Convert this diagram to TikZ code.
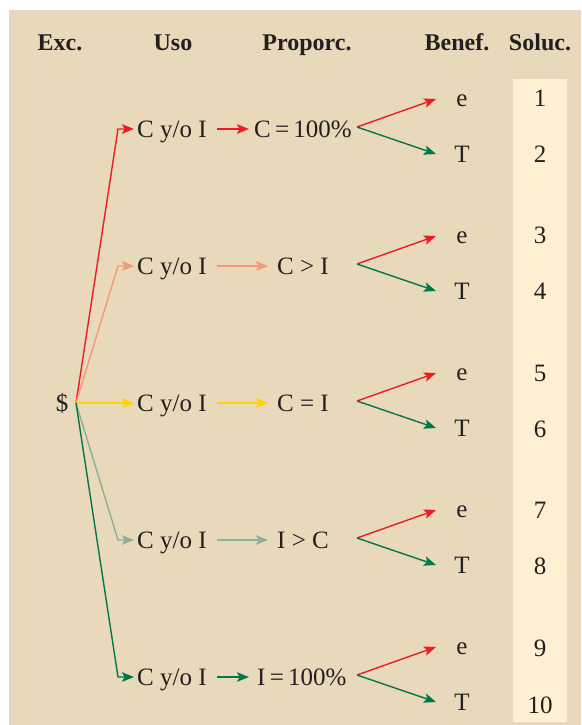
\documentclass[tikz,border=0pt]{standalone}
\usepackage{fontspec}
\setmainfont{Liberation Serif}
\usetikzlibrary{arrows.meta}
\definecolor{bgtan}{HTML}{E9D9BB}
\definecolor{colcream}{HTML}{FFF0D4}
\definecolor{txt}{HTML}{231F20}
\definecolor{cred}{HTML}{EC1C24}
\definecolor{csalmon}{HTML}{F5977A}
\definecolor{cyellow}{HTML}{FFD200}
\definecolor{csage}{HTML}{8FAE96}
\definecolor{cgreen}{HTML}{00784A}
\tikzset{
  lbl/.style={text=txt, font=\fontsize{25}{27}\selectfont, inner sep=0pt, anchor=base},
  hdr/.style={text=txt, font=\fontsize{24}{26}\selectfont\bfseries, inner sep=0pt, anchor=base},
  conn/.style={line width=1.4pt, -{Stealth[length=12pt,width=9.5pt,inset=2.5pt]}},
}
\newcommand{\eqsp}{\hspace{0.17em}}
\begin{document}
\begin{tikzpicture}[x=1pt,y=-1pt]
\useasboundingbox (0,0) rectangle (581,725);
% panels
\fill[bgtan] (9,10) rectangle (581,725);
\fill[colcream] (513,79) rectangle (567,722);

% column headings
\node[hdr] (hExc) at (60,51) {Exc.};
\node[hdr] (hUso) at (173,51) {Uso};
\node[hdr] (hProp) at (307,51) {Proporc.};
\node[hdr] (hBen) at (457,51) {Benef.};
\node[hdr] (hSol) at (540,51) {Soluc.};

% root
\node[lbl] (root) at (62,411) {\$};
\coordinate (r) at (76,403);

% usage nodes
\foreach \i/\y in {1/129,2/266,3/403,4/540,5/677}{
  \node[lbl, anchor=base west] (u\i) at (137,\y+8) {C y/o I};
  \coordinate (ua\i) at (134,\y);
  \coordinate (ub\i) at (217,\y);
}
% elbow points
\coordinate (k1) at (118,129);
\coordinate (k2) at (118,266);
\coordinate (k4) at (118,540);
\coordinate (k5) at (118,677);

% proportion nodes
\node[lbl, anchor=base west] (p1) at (254,137) {C\eqsp=\eqsp100\%};
\node[lbl] (p2) at (303,274) {C > I};
\node[lbl] (p3) at (303,411) {C = I};
\node[lbl] (p4) at (303,548) {I > C};
\node[lbl, anchor=base west] (p5) at (257,685) {I\eqsp=\eqsp100\%};
\coordinate (pa1) at (249,129);
\coordinate (pa2) at (268,266);
\coordinate (pa3) at (268,403);
\coordinate (pa4) at (268,540);
\coordinate (pa5) at (249,677);

% root to usage
\draw[conn, cred] (r) -- (k1) -- (ua1);
\draw[conn, csalmon] (r) -- (k2) -- (ua2);
\draw[conn, cyellow] (r) -- (ua3);
\draw[conn, csage] (r) -- (k4) -- (ua4);
\draw[conn, cgreen] (r) -- (k5) -- (ua5);

% usage to proportion
\draw[conn, cred] (ub1) -- (pa1);
\draw[conn, csalmon] (ub2) -- (pa2);
\draw[conn, cyellow] (ub3) -- (pa3);
\draw[conn, csage] (ub4) -- (pa4);
\draw[conn, cgreen] (ub5) -- (pa5);

% benefit branches
\foreach \i/\y in {1/127,2/264,3/401,4/538,5/675}{
  \coordinate (s\i) at (357,\y);
  \coordinate (te\i) at (436,\y-28);
  \coordinate (tt\i) at (436,\y+27);
  \node[lbl] (e\i) at (462,\y-21) {e};
  \node[lbl] (t\i) at (462,\y+35) {T};
  \draw[conn, cred] (s\i) -- (te\i);
  \draw[conn, cgreen] (s\i) -- (tt\i);
}
% solution numbers
\foreach \n/\y in {1/106,2/162,3/243,4/299,5/381,6/437,7/518,8/574,9/656,10/713}{
  \node[lbl] (n\n) at (540,\y) {\n};
}
\end{tikzpicture}
\end{document}
